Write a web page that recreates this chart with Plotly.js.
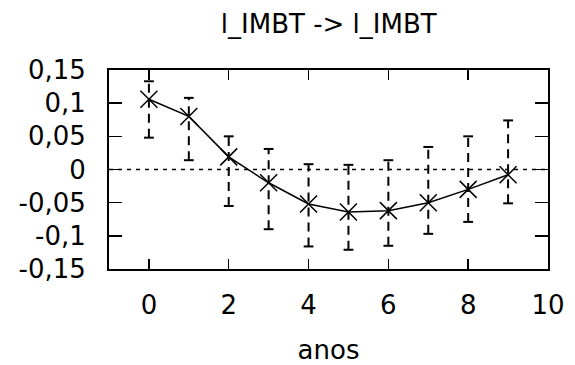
<!DOCTYPE html>
<html>
<head>
<meta charset="utf-8">
<script src="https://cdn.plot.ly/plotly-3.0.1.min.js"></script>
<style>html,body{margin:0;padding:0;background:#fff;}#chart{width:575px;height:365px;}</style>
</head>
<body>
<div id="chart"></div>
<script>
var periods = [0, 1, 2, 3, 4, 5, 6, 7, 8, 9];
var response = [0.106, 0.080, 0.019, -0.020, -0.052, -0.064, -0.062, -0.050, -0.030, -0.008];
var upperBand = [0.133, 0.108, 0.050, 0.031, 0.008, 0.007, 0.014, 0.034, 0.050, 0.074];
var lowerBand = [0.048, 0.014, -0.055, -0.090, -0.116, -0.121, -0.115, -0.097, -0.079, -0.051];
var yTickVals = [-0.15, -0.1, -0.05, 0, 0.05, 0.1, 0.15];
var yTickText = ["-0,15", "-0,1", "-0,05", "0", "0,05", "0,1", "0,15"];
var xTickVals = [0, 2, 4, 6, 8, 10];
var xTickText = ["0", "2", "4", "6", "8", "10"];

// dashed error bars built from the bands
var ebX = [], ebY = [];
periods.forEach(function (p, i) {
  ebX.push(p, p, null);
  ebY.push(lowerBand[i], upperBand[i], null);
});
var capX = periods.concat(periods);
var capY = upperBand.concat(lowerBand);

var font = {family: "DejaVu Sans, Verdana, sans-serif", color: "#000"};

var traces = [
  {x: ebX, y: ebY, mode: "lines", line: {color: "#000", width: 2, dash: "9px,6px"}, hoverinfo: "skip"},
  {x: capX, y: capY, mode: "markers", marker: {symbol: "line-ew", size: 7, line: {color: "#000", width: 2}}, hoverinfo: "skip"},
  {x: periods, y: response, mode: "lines+markers", line: {color: "#000", width: 1.5},
   marker: {symbol: "x-thin", size: 17, color: "#000", line: {color: "#000", width: 1.5}}}
];

var layout = {
  width: 575, height: 365,
  margin: {l: 109, r: 27, t: 70, b: 96},
  paper_bgcolor: "#fff", plot_bgcolor: "#fff",
  showlegend: false,
  font: Object.assign({size: 26}, font),
  title: {text: "l_IMBT -> l_IMBT", font: Object.assign({size: 26}, font), x: 0.5717, xanchor: "center", y: 0.935, yanchor: "middle"},
  xaxis: {
    range: [-1, 10], showgrid: false, zeroline: false,
    showline: true, linecolor: "#000", linewidth: 2, mirror: "ticks",
    ticks: "inside", ticklen: 10, tickwidth: 1.5, tickcolor: "#000",
    tickvals: xTickVals, ticktext: xTickText,
    tickfont: Object.assign({size: 26}, font), ticklabelstandoff: 12,
    title: {text: "anos", font: Object.assign({size: 26}, font), standoff: 22}
  },
  yaxis: {
    range: [-0.15, 0.15], showgrid: false, zeroline: false,
    showline: true, linecolor: "#000", linewidth: 2, mirror: "ticks",
    ticks: "inside", ticklen: 13, tickwidth: 1.5, tickcolor: "#000",
    tickvals: yTickVals, ticktext: yTickText,
    tickfont: Object.assign({size: 26}, font), ticklabelstandoff: 16
  },
  shapes: [{type: "line", xref: "paper", x0: 0, x1: 1, yref: "y", y0: 0, y1: 0,
            line: {color: "#000", width: 1.5, dash: "4px,5px"}, layer: "below"}]
};

Plotly.newPlot("chart", traces, layout, {displayModeBar: false, staticPlot: true});
</script>
</body>
</html>
